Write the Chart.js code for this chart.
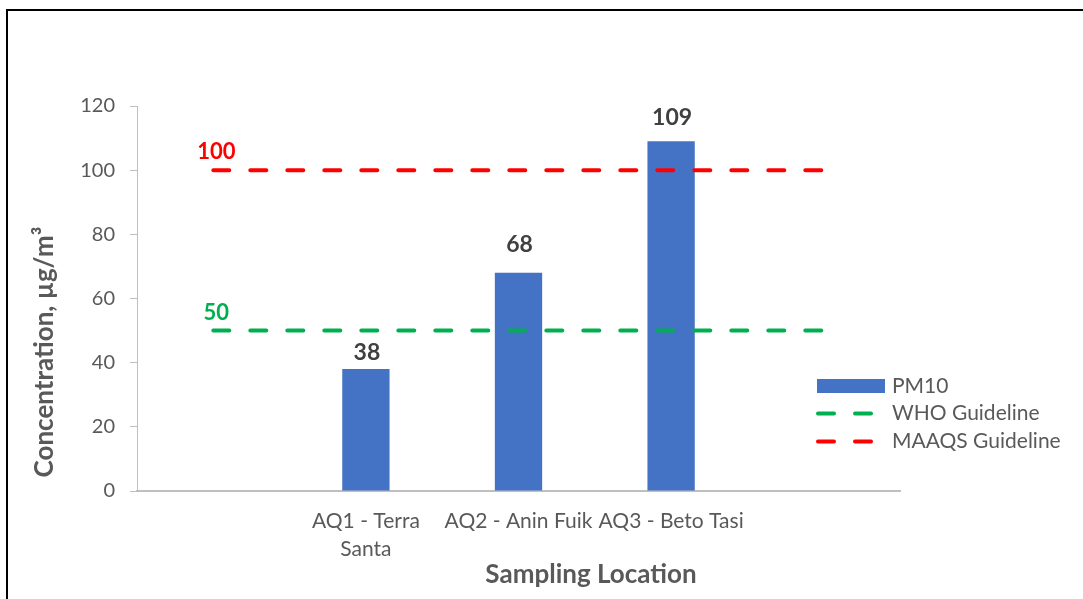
<!DOCTYPE html>
<html>
<head>
<meta charset="utf-8">
<script src="https://cdn.jsdelivr.net/npm/chart.js@4.4.1/dist/chart.umd.min.js"></script>
<style>
  html, body { margin: 0; padding: 0; background: #ffffff; }
  #wrap { width: 1083px; height: 599px; position: relative; }
</style>
</head>
<body>
<div id="wrap"><canvas id="c" width="1083" height="599"></canvas></div>
<script>
// Sampling sites (empty slots at both ends give the guideline lines room to run past the bars)
const categories = ['', ['AQ1 - Terra', 'Santa'], 'AQ2 - Anin Fuik', 'AQ3 - Beto Tasi', ''];
const pm10 = [null, 38, 68, 109, null];
const whoGuideline = [50, 50, 50, 50, 50];
const maaqsGuideline = [100, 100, 100, 100, 100];
const yTicks = [0, 20, 40, 60, 80, 100, 120];
const seriesNames = ['PM10', 'WHO Guideline', 'MAAQS Guideline'];
const xTitle = 'Sampling Location';
const yTitle = 'Concentration, µg/m³';

const FONT = 'Lato, "Open Sans", sans-serif';
const GREY_TEXT = '#595959';
const AXIS_GREY = '#bfbfbf';
const BAR_BLUE = '#4472C4';
const WHO_GREEN = '#00B050';
const MAAQS_RED = '#FF0000';
const DASH = [16, 21];
// how far each bar's value label sits above the bar top (px)
const barLabelLift = [0, 17, 28, 24, 0];

// Value labels: every bar value, and the guideline value at the left end of each line
const valueLabels = {
  id: 'valueLabels',
  afterDatasetsDraw(chart) {
    const ctx = chart.ctx;
    ctx.save();
    ctx.textAlign = 'center';
    ctx.textBaseline = 'middle';
    chart.data.datasets.forEach((ds, di) => {
      const meta = chart.getDatasetMeta(di);
      if (ds.type === 'bar') {
        ctx.font = 'bold 23px ' + FONT;
        ctx.fillStyle = '#404040';
        meta.data.forEach((el, i) => {
          const v = ds.data[i];
          if (v === null || v === undefined) return;
          ctx.fillText(String(v), el.x + 1, el.y - barLabelLift[i]);
        });
      } else {
        const el = meta.data[0];
        ctx.font = 'bold 22px ' + FONT;
        ctx.fillStyle = ds.borderColor;
        ctx.fillText(String(ds.data[0]), el.x + 3, el.y - 18);
      }
    });
    ctx.restore();
  }
};

// Axis titles, legend and the frame
const decorations = {
  id: 'decorations',
  afterDraw(chart) {
    const ctx = chart.ctx;
    const area = chart.chartArea;
    ctx.save();

    // frame along the top and left edges
    ctx.fillStyle = '#000000';
    ctx.fillRect(6, 9, chart.width - 6, 2);
    ctx.fillRect(6, 9, 2, chart.height - 9);

    // axis titles
    ctx.fillStyle = GREY_TEXT;
    ctx.font = 'bold 26px ' + FONT;
    ctx.textAlign = 'center';
    ctx.textBaseline = 'middle';
    ctx.fillText(xTitle, area.left + (area.right - area.left) * 0.595, 575);
    ctx.translate(45, 352);
    ctx.rotate(-Math.PI / 2);
    ctx.fillText(yTitle, 0, 0);
    ctx.setTransform(1, 0, 0, 1, 0, 0);

    // legend
    const lx = 817, rowY = [386, 413.5, 441.5];
    ctx.font = '21px ' + FONT;
    ctx.textAlign = 'left';
    ctx.textBaseline = 'middle';
    chart.data.datasets.forEach((ds, i) => {
      const y = rowY[i];
      if (ds.type === 'bar') {
        ctx.fillStyle = ds.backgroundColor;
        ctx.fillRect(lx, y - 7, 68, 14);
      } else {
        ctx.strokeStyle = ds.borderColor;
        ctx.lineWidth = 4;
        ctx.lineCap = 'round';
        ctx.setLineDash(DASH);
        ctx.beginPath();
        ctx.moveTo(lx + 1, y);
        ctx.lineTo(lx + 55, y);
        ctx.stroke();
        ctx.setLineDash([]);
      }
      ctx.fillStyle = GREY_TEXT;
      ctx.fillText(ds.label, 892, y);
    });
    ctx.restore();
  }
};

const chart = new Chart(document.getElementById('c'), {
  data: {
    labels: categories,
    datasets: [
      {
        type: 'bar',
        label: seriesNames[0],
        data: pm10,
        backgroundColor: BAR_BLUE,
        borderWidth: 0,
        categoryPercentage: 0.31,
        barPercentage: 1,
        order: 3
      },
      {
        type: 'line',
        label: seriesNames[1],
        data: whoGuideline,
        borderColor: WHO_GREEN,
        backgroundColor: WHO_GREEN,
        borderWidth: 4,
        borderDash: DASH,
        borderCapStyle: 'round',
        pointRadius: 0,
        fill: false,
        tension: 0,
        order: 1
      },
      {
        type: 'line',
        label: seriesNames[2],
        data: maaqsGuideline,
        borderColor: MAAQS_RED,
        backgroundColor: MAAQS_RED,
        borderWidth: 4,
        borderDash: DASH,
        borderCapStyle: 'round',
        pointRadius: 0,
        fill: false,
        tension: 0,
        order: 0
      }
    ]
  },
  options: {
    responsive: false,
    animation: false,
    devicePixelRatio: 1,
    layout: { padding: { top: 106, right: 183, left: 0, bottom: 0 } },
    plugins: {
      legend: { display: false },
      tooltip: { enabled: false }
    },
    scales: {
      x: {
        type: 'category',
        offset: true,
        grid: { display: false, drawTicks: false },
        border: { display: true, color: AXIS_GREY, width: 2 },
        ticks: {
          color: GREY_TEXT,
          font: { family: FONT, size: 21, lineHeight: 1.35 },
          padding: 16,
          maxRotation: 0,
          autoSkip: false
        },
        afterFit(scale) { scale.height = 108; }
      },
      y: {
        min: yTicks[0],
        max: yTicks[yTicks.length - 1],
        grid: { drawOnChartArea: false, drawTicks: true, tickLength: 7, color: AXIS_GREY, lineWidth: 1 },
        border: { display: true, color: AXIS_GREY, width: 1 },
        ticks: {
          stepSize: yTicks[1] - yTicks[0],
          color: GREY_TEXT,
          font: { family: FONT, size: 20 },
          padding: 15
        },
        afterFit(scale) { scale.width = 137; }
      }
    }
  },
  plugins: [valueLabels, decorations]
});
</script>
</body>
</html>
